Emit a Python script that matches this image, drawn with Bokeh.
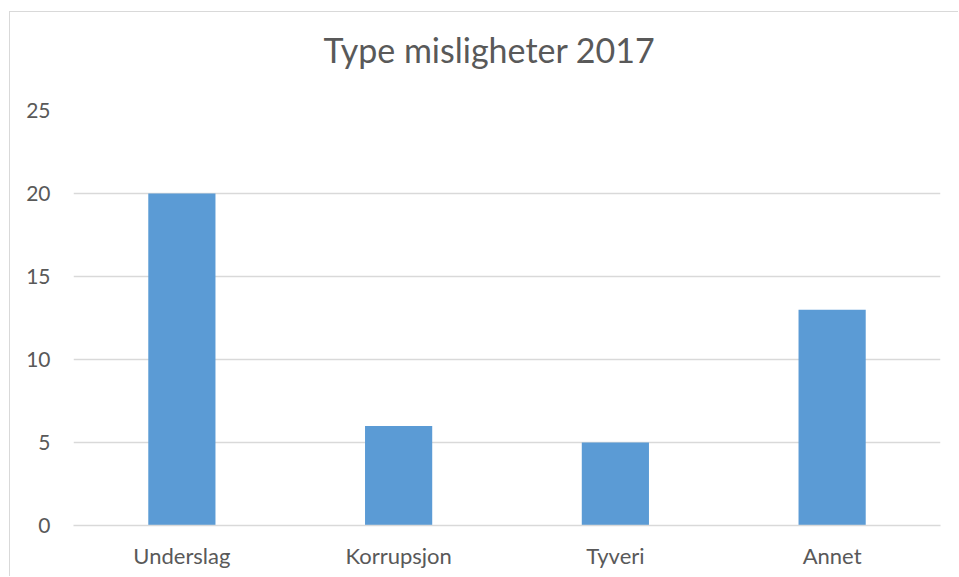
from bokeh.plotting import figure
from bokeh.models import FixedTicker, Title, ColumnDataSource
from bokeh.embed import file_html
from bokeh.resources import INLINE

categories = ["Underslag", "Korrupsjon", "Tyveri", "Annet"]
values = [20, 6, 5, 13]
y_ticks = [0, 5, 10, 15, 20, 25]
title_text = "Type misligheter 2017"

FONT = "Lato"
TXT = "#595959"
GRID = "#D9D9D9"
BAR = "#5B9BD5"

W, H = 949, 565
p = figure(x_range=categories, y_range=(0, 25), width=W, height=H,
           output_backend="svg", toolbar_location=None,
           min_border_left=63, min_border_top=98, min_border_right=19,
           min_border_bottom=52)
p.x_range.range_padding = 0
p.styles = {"border-left": "1px solid #D9D9D9", "border-top": "1px solid #D9D9D9",
            "margin-left": "9px", "margin-top": "11px"}

src = ColumnDataSource(dict(cat=categories, val=values))
p.vbar(x="cat", top="val", width=0.31, source=src, fill_color=BAR, line_color=None)

p.outline_line_color = None
p.xgrid.grid_line_color = None
p.ygrid.grid_line_color = GRID
p.ygrid.grid_line_width = 1.3
p.yaxis.ticker = FixedTicker(ticks=y_ticks)
p.yaxis.axis_line_color = None
p.yaxis.major_tick_line_color = None
p.yaxis.minor_tick_line_color = None
p.yaxis.major_label_standoff = 17
p.yaxis.major_label_text_font = FONT
p.yaxis.major_label_text_font_size = "21px"
p.yaxis.major_label_text_color = TXT

p.xaxis.axis_line_color = GRID
p.xaxis.axis_line_width = 1.3
p.xaxis.major_tick_line_color = None
p.xaxis.minor_tick_line_color = None
p.xaxis.major_label_standoff = 10
p.xaxis.major_label_text_font = FONT
p.xaxis.major_label_text_font_size = "22px"
p.xaxis.major_label_text_color = TXT

# second (blank) line lifts the title within its panel
title = Title(text=title_text + "\n ", align="left", offset=250, standoff=0,
              text_font=FONT, text_font_size="34px", text_color=TXT,
              text_font_style="normal")
p.add_layout(title, "above")

open("out.html", "w").write(file_html(p, INLINE))
